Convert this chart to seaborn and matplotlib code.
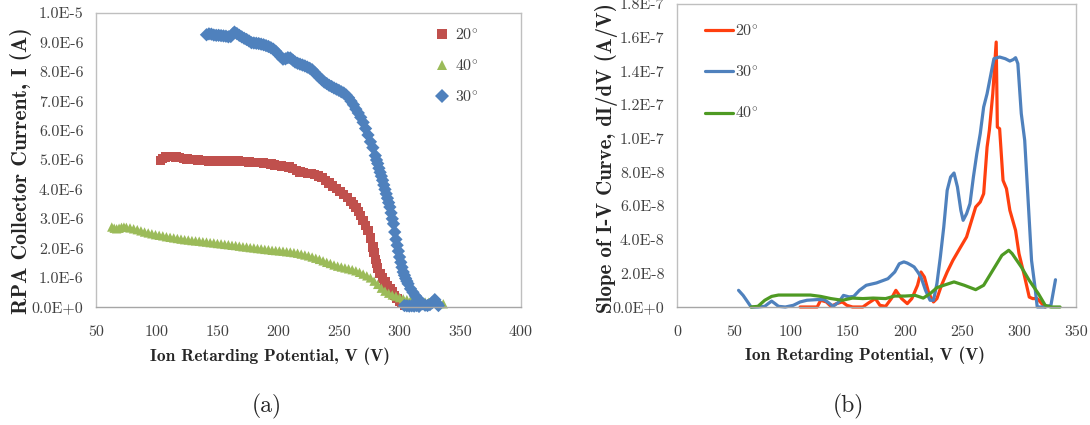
import numpy as np
import pandas as pd
import matplotlib
matplotlib.use("Agg")
import matplotlib.pyplot as plt
from matplotlib.ticker import FuncFormatter, MultipleLocator
import seaborn as sns

# ---------------- (a) I-V characteristic: collector current vs. retarding potential
# currents in microamps
v20 = [103, 105, 107, 110, 113, 116, 119, 122, 125, 128, 131, 134, 137, 140, 143, 146, 149,
       152, 155, 158, 161, 164, 167, 170, 173, 176, 179, 182, 185, 188, 191, 194, 197, 200,
       203, 206, 209, 212, 215, 218, 221, 224, 227, 230, 233, 236, 239, 242, 245, 248, 251,
       254, 257, 260, 262, 264, 266, 268, 270, 272, 274, 276, 278, 279, 280, 281, 282, 284,
       286, 288, 290, 292, 294, 296, 298, 300, 302, 304, 306]
i20 = [4.99, 5.05, 5.10, 5.12, 5.12, 5.10, 5.08, 5.06, 5.04, 5.02, 5.01, 5.00, 4.99, 4.98,
       4.97, 4.97, 4.97, 4.97, 4.97, 4.97, 4.97, 4.97, 4.96, 4.95, 4.94, 4.93, 4.92, 4.92,
       4.91, 4.90, 4.89, 4.86, 4.83, 4.81, 4.80, 4.78, 4.76, 4.72, 4.65, 4.59, 4.57, 4.55,
       4.54, 4.50, 4.45, 4.40, 4.30, 4.22, 4.12, 4.03, 3.93, 3.83, 3.72, 3.58, 3.48, 3.38,
       3.25, 3.12, 2.95, 2.78, 2.60, 2.35, 2.04, 1.85, 1.62, 1.47, 1.32, 1.13, 0.98, 0.85,
       0.74, 0.62, 0.51, 0.40, 0.29, 0.19, 0.12, 0.07, 0.05]

v40 = [63, 65, 67, 69, 71, 73, 75, 78, 81, 84, 87, 90, 93, 96, 99, 102, 105, 108, 111, 114,
       117, 120, 123, 126, 129, 132, 135, 138, 141, 144, 147, 150, 153, 156, 159, 162, 165,
       168, 171, 174, 177, 180, 183, 186, 189, 192, 195, 198, 201, 204, 207, 210, 213, 216,
       219, 222, 225, 228, 231, 234, 237, 240, 243, 246, 249, 252, 255, 258, 261, 264, 267,
       270, 273, 276, 279, 282, 285, 288, 291, 294, 297, 300, 303, 306, 309, 312, 315, 318,
       321, 324, 327, 330, 333, 336]
i40 = [2.72, 2.68, 2.66, 2.68, 2.71, 2.72, 2.71, 2.69, 2.66, 2.63, 2.59, 2.55, 2.52, 2.49,
       2.46, 2.44, 2.42, 2.39, 2.37, 2.35, 2.33, 2.31, 2.29, 2.28, 2.26, 2.25, 2.24, 2.22,
       2.21, 2.19, 2.18, 2.16, 2.15, 2.13, 2.12, 2.10, 2.09, 2.07, 2.05, 2.04, 2.02, 2.01,
       1.99, 1.98, 1.96, 1.95, 1.93, 1.92, 1.91, 1.90, 1.88, 1.87, 1.85, 1.83, 1.80, 1.77,
       1.74, 1.70, 1.66, 1.62, 1.57, 1.52, 1.48, 1.43, 1.39, 1.36, 1.33, 1.30, 1.27, 1.23,
       1.18, 1.12, 1.06, 0.99, 0.88, 0.77, 0.64, 0.54, 0.47, 0.41, 0.37, 0.32, 0.28, 0.25,
       0.22, 0.20, 0.19, 0.18, 0.17, 0.16, 0.15, 0.13, 0.12, 0.11]

v30 = [141, 143, 145, 147, 149, 151, 153, 155, 157, 159, 161, 163, 164, 166, 168, 170, 172,
       174, 176, 178, 180, 182, 184, 186, 188, 190, 192, 194, 196, 198, 200, 202, 204, 206,
       208, 210, 212, 214, 216, 218, 220, 222, 224, 226, 228, 230, 232, 234, 236, 238, 240,
       242, 244, 246, 248, 250, 252, 254, 256, 258, 260, 262, 264, 266, 268, 270, 272, 274,
       276, 278, 280, 281, 282, 283, 284, 285, 286, 287, 288, 289, 290, 291, 292, 293, 294,
       295, 296, 297, 298, 299, 300, 301, 302, 303, 304, 305, 306, 307, 309, 311, 313, 315,
       317, 319, 321, 323, 325, 327, 329, 331, 332,
       304, 306, 308, 310, 312, 314, 316]
i30 = [9.26, 9.29, 9.28, 9.25, 9.24, 9.24, 9.23, 9.22, 9.21, 9.19, 9.20, 9.30, 9.35, 9.30,
       9.24, 9.19, 9.14, 9.10, 9.05, 8.99, 8.98, 8.97, 8.96, 8.94, 8.92, 8.89, 8.86, 8.82,
       8.77, 8.70, 8.60, 8.52, 8.43, 8.44, 8.48, 8.47, 8.40, 8.33, 8.29, 8.26, 8.23, 8.20,
       8.16, 8.12, 8.07, 7.98, 7.89, 7.81, 7.73, 7.65, 7.60, 7.54, 7.50, 7.45, 7.41, 7.37,
       7.32, 7.28, 7.21, 7.12, 7.00, 6.88, 6.73, 6.60, 6.45, 6.28, 6.07, 5.85, 5.62, 5.42,
       5.15, 5.00, 4.88, 4.72, 4.58, 4.45, 4.31, 4.15, 4.00, 3.85, 3.70, 3.55, 3.40, 3.20,
       3.00, 2.83, 2.55, 2.30, 2.10, 1.90, 1.70, 1.52, 1.35, 1.19, 1.08, 0.97, 0.88, 0.79,
       0.62, 0.50, 0.38, 0.28, 0.20, 0.11, 0.06, 0.05, 0.08, 0.15, 0.25, 0.12, 0.05,
       0.05, 0.04, 0.03, 0.04, 0.03, 0.05, 0.02]

# ---------------- (b) slope of the I-V curve, in units of 1e-8 A/V
s20_v = [108, 115, 123, 126, 131, 135, 140, 145, 149, 154, 158, 163, 168, 174, 178, 183,
         188, 192, 197, 202, 206, 211, 214, 217, 221, 225, 228, 232, 237, 242, 248, 254,
         258, 262, 266, 269, 272, 274, 277, 280, 281, 283, 286, 289, 292, 297, 300, 305,
         309, 312, 316, 320, 323]
s20_s = [0.0, 0.0, 0.0, 0.40, 0.30, 0.04, 0.20, 0.30, 0.10, 0.0, 0.0, 0.0, 0.24, 0.50,
         0.10, 0.04, 0.50, 0.99, 0.50, 0.20, 0.50, 1.29, 2.08, 1.78, 0.79, 0.30, 0.50, 1.29,
         2.08, 2.77, 3.47, 4.16, 5.05, 5.94, 6.24, 6.73, 9.50, 10.5, 12.67, 15.74, 10.69,
         10.59, 7.52, 7.03, 5.74, 4.55, 3.17, 1.78, 0.59, 0.50, 0.50, 0.20, 0.0]

s30_v = [54, 58, 62, 65, 71, 77, 80, 83, 86, 89, 95, 102, 108, 114, 123, 129, 132, 137,
         142, 146, 151, 155, 160, 166, 175, 185, 191, 195, 199, 202, 205, 208, 211, 214,
         218, 222, 225, 228, 231, 234, 237, 240, 243, 246, 249, 251, 254, 257, 260, 263,
         266, 269, 272, 276, 278, 283, 288, 292, 295, 297, 299, 302, 305, 308, 311, 314,
         316, 323, 328, 332]
s30_s = [0.99, 0.69, 0.30, 0.0, 0.0, 0.04, 0.20, 0.35, 0.20, 0.04, 0.0, 0.10, 0.30, 0.40,
         0.44, 0.44, 0.30, 0.04, 0.30, 0.69, 0.60, 0.63, 0.99, 1.29, 1.43, 1.68, 2.08, 2.57,
         2.68, 2.61, 2.50, 2.38, 2.10, 1.78, 0.99, 0.40, 0.40, 1.39, 2.97, 4.75, 6.93, 7.72,
         7.96, 7.13, 5.74, 5.15, 5.54, 6.14, 7.72, 9.11, 10.30, 11.88, 12.67, 14.06, 14.75,
         14.85, 14.75, 14.61, 14.70, 14.81, 14.46, 11.49, 9.90, 6.34, 2.77, 1.19, 0.0, 0.0,
         0.10, 1.62]

s40_v = [65, 71, 77, 83, 89, 102, 117, 126, 135, 145, 154, 163, 172, 183, 191, 200, 209,
         216, 222, 228, 234, 243, 252, 262, 269, 277, 285, 291, 294, 302, 309, 317, 323,
         328, 336]
s40_s = [0.0, 0.04, 0.40, 0.63, 0.71, 0.71, 0.71, 0.63, 0.50, 0.40, 0.53, 0.50, 0.53,
         0.50, 0.65, 0.65, 0.69, 0.53, 0.79, 1.15, 1.29, 1.49, 1.29, 1.03, 1.29, 2.18, 3.07,
         3.37, 3.17, 2.38, 1.58, 0.79, 0.10, 0.0, 0.0]

angles_a = ["20°", "40°", "30°"]
angles_b = ["20°", "30°", "40°"]
colors_a = {"20°": "#C0504D", "40°": "#9BBB59", "30°": "#4F81BD"}
colors_b = {"20°": "#FF3F0F", "30°": "#4F81BD", "40°": "#4E9A23"}
markers_a = {"20°": "s", "40°": "^", "30°": "D"}

df_a = pd.concat([
    pd.DataFrame({"V": v20, "I": np.array(i20) * 1e-6, "angle": "20°"}),
    pd.DataFrame({"V": v40, "I": np.array(i40) * 1e-6, "angle": "40°"}),
    pd.DataFrame({"V": v30, "I": np.array(i30) * 1e-6, "angle": "30°"}),
], ignore_index=True)

df_b = pd.concat([
    pd.DataFrame({"V": s20_v, "S": np.array(s20_s) * 1e-8, "angle": "20°"}),
    pd.DataFrame({"V": s30_v, "S": np.array(s30_s) * 1e-8, "angle": "30°"}),
    pd.DataFrame({"V": s40_v, "S": np.array(s40_s) * 1e-8, "angle": "40°"}),
], ignore_index=True)

sns.set_style("white")
plt.rcParams["font.family"] = ["cmr10", "DejaVu Serif"]
plt.rcParams["mathtext.fontset"] = "cm"
plt.rcParams["axes.unicode_minus"] = False

W, H = 1090, 425
fig = plt.figure(figsize=(W / 100, H / 100), dpi=100)


def px_box(x0, y0, x1, y1):
    return [x0 / W, 1 - y1 / H, (x1 - x0) / W, (y1 - y0) / H]


def sci(v, pos):
    if abs(v) < 1e-20:
        return "0.0E+0"
    e = int(np.floor(np.log10(abs(v)) + 1e-9))
    m = v / 10 ** e
    return f"{m:.1f}E{e}"


TICK_COLOR = "#404040"
SPINE_COLOR = "#BFBFBF"


def style_axes(ax):
    for side in ["left", "right", "top"]:
        ax.spines[side].set_color(SPINE_COLOR)
        ax.spines[side].set_linewidth(1.0)
    ax.spines["bottom"].set_color("#A6A6A6")
    ax.spines["bottom"].set_linewidth(1.0)
    ax.tick_params(length=0, labelsize=11.5, labelcolor=TICK_COLOR)
    ax.tick_params(axis="x", pad=13)
    ax.tick_params(axis="y", pad=9)
    ax.yaxis.set_major_formatter(FuncFormatter(sci))
    ax.set_xlabel("")
    ax.set_ylabel("")
    ax.grid(False)


# ---- panel (a)
ax1 = fig.add_axes(px_box(96, 13, 521, 307))
sns.scatterplot(data=df_a, x="V", y="I", hue="angle", style="angle",
                hue_order=angles_a, style_order=angles_a, palette=colors_a,
                markers=markers_a, s=46, linewidth=0, alpha=1.0, ax=ax1, clip_on=False)
ax1.set_xlim(50, 400)
ax1.set_ylim(0, 1.0e-5)
ax1.xaxis.set_major_locator(MultipleLocator(50))
ax1.yaxis.set_major_locator(MultipleLocator(1.0e-6))
style_axes(ax1)
sns.move_legend(ax1, loc="upper left", bbox_to_anchor=(0.795, 0.952), frameon=False,
                title=None, fontsize=11.5, handlelength=1.0, handletextpad=0.3,
                labelspacing=0.95, borderpad=0, borderaxespad=0, markerscale=1.0)
for t in ax1.get_legend().get_texts():
    t.set_text(t.get_text().replace("°", r"$^{\circ}$"))
    t.set_color(TICK_COLOR)

# ---- panel (b)
ax2 = fig.add_axes(px_box(677, 4, 1076, 307))
sns.lineplot(data=df_b, x="V", y="S", hue="angle", hue_order=angles_b, palette=colors_b,
             estimator=None, sort=False, linewidth=2.3, ax=ax2, clip_on=False)
ax2.set_xlim(0, 350)
ax2.set_ylim(0, 1.8e-7)
ax2.xaxis.set_major_locator(MultipleLocator(50))
ax2.yaxis.set_major_locator(MultipleLocator(2.0e-8))
style_axes(ax2)
sns.move_legend(ax2, loc="upper left", bbox_to_anchor=(0.07, 0.937), frameon=False,
                title=None, fontsize=11.5, handlelength=1.75, handletextpad=0.15,
                labelspacing=1.6, borderpad=0, borderaxespad=0)
for t in ax2.get_legend().get_texts():
    t.set_text(t.get_text().replace("°", r"$^{\circ}$"))
    t.set_color(TICK_COLOR)

# ---- axis titles and panel captions
bold = dict(family=["cmb10", "DejaVu Serif"], color="#262626")
fig.text(21 / W, 1 - 171 / H, "RPA Collector Current, I (A)", rotation=90,
         ha="center", va="center", fontsize=15.5, **bold)
fig.text(606 / W, 1 - 158 / H, "Slope of I-V Curve, dI/dV (A/V)", rotation=90,
         ha="center", va="center", fontsize=15, **bold)
fig.text(270 / W, 1 - 356 / H, "Ion Retarding Potential, V (V)",
         ha="center", va="center", fontsize=12.5, **bold)
fig.text(865 / W, 1 - 355 / H, "Ion Retarding Potential, V (V)",
         ha="center", va="center", fontsize=12.5, **bold)
fig.text(267 / W, 1 - 406 / H, "(a)", ha="center", va="center", fontsize=17,
         color="#262626")
fig.text(848 / W, 1 - 406 / H, "(b)", ha="center", va="center", fontsize=17,
         color="#262626")

fig.savefig("out.png", dpi=100, facecolor="white")
